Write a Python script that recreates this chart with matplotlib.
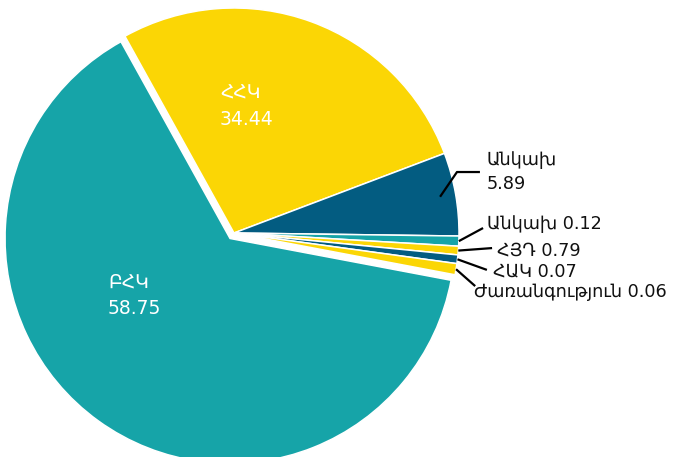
import numpy as np
import matplotlib.pyplot as plt

plt.rcParams['font.family'] = ['DejaVu Sans']

parties = ['ՀՀԿ', 'Անկախ', 'Անկախ', 'ՀՅԴ', 'ՀԱԿ', 'Ժառանգություն', 'ԲՀԿ']
shares = [34.44, 5.89, 0.12, 0.79, 0.07, 0.06, 58.75]
# wedge sizes as they are drawn in the picture (small parties are widened)
wedge_sizes = [27.3, 5.97, 0.72, 0.62, 0.62, 0.80, 63.97]
colors = ['#fbd605', '#035c81', '#16a4a8', '#fbd605', '#035c81', '#fbd605', '#16a4a8']
explode = [0, 0, 0, 0, 0, 0, 0.03]

# label placement (data units, pie radius = 1)
inside = {0: (-0.062, 0.565), 6: (-0.56, -0.276)}
outside = {
    1: dict(text=(1.124, 0.271), elbow=(0.991, 0.271), end=(1.093, 0.271), r=0.93, multiline=True),
    2: dict(text=(1.124, 0.040), end=(1.107, 0.022), r=1.0),
    3: dict(text=(1.169, -0.076), end=(1.147, -0.067), r=1.0),
    4: dict(text=(1.151, -0.169), end=(1.124, -0.164), r=1.0),
    5: dict(text=(1.068, -0.262), end=(1.072, -0.236), r=1.0),
}

fig = plt.figure(figsize=(6.81, 4.57), dpi=100)
ax = fig.add_axes([0, 0, 1, 1])

wedges, _ = ax.pie(wedge_sizes, colors=colors, explode=explode,
                   startangle=119, counterclock=False,
                   wedgeprops=dict(edgecolor='white', linewidth=1.1))

ax.set_xlim(-234 / 225, (681 - 234) / 225)
ax.set_ylim(-(457 - 233) / 225, 233 / 225)
ax.set_aspect('auto')
ax.axis('off')

for i, (x, y) in inside.items():
    ax.text(x, y, f"{parties[i]}\n{shares[i]:.2f}", color='white', fontsize=13.5,
            ha='left', va='center', linespacing=1.5)

for i, opt in outside.items():
    w = wedges[i]
    mid = np.deg2rad((w.theta1 + w.theta2) / 2)
    cx, cy = w.center
    sx = cx + opt['r'] * np.cos(mid)
    sy = cy + opt['r'] * np.sin(mid)
    if 'elbow' in opt:
        xs = [sx, opt['elbow'][0], opt['end'][0]]
        ys = [sy, opt['elbow'][1], opt['end'][1]]
    else:
        xs = [sx, opt['end'][0]]
        ys = [sy, opt['end'][1]]
    ax.plot(xs, ys, color='black', lw=1.6, solid_capstyle='butt')
    sep = '\n' if opt.get('multiline') else ' '
    ax.text(opt['text'][0], opt['text'][1], f"{parties[i]}{sep}{shares[i]:.2f}",
            color='#111111', fontsize=12.7, ha='left', va='center', linespacing=1.4)

fig.savefig('out.png', dpi=100)
